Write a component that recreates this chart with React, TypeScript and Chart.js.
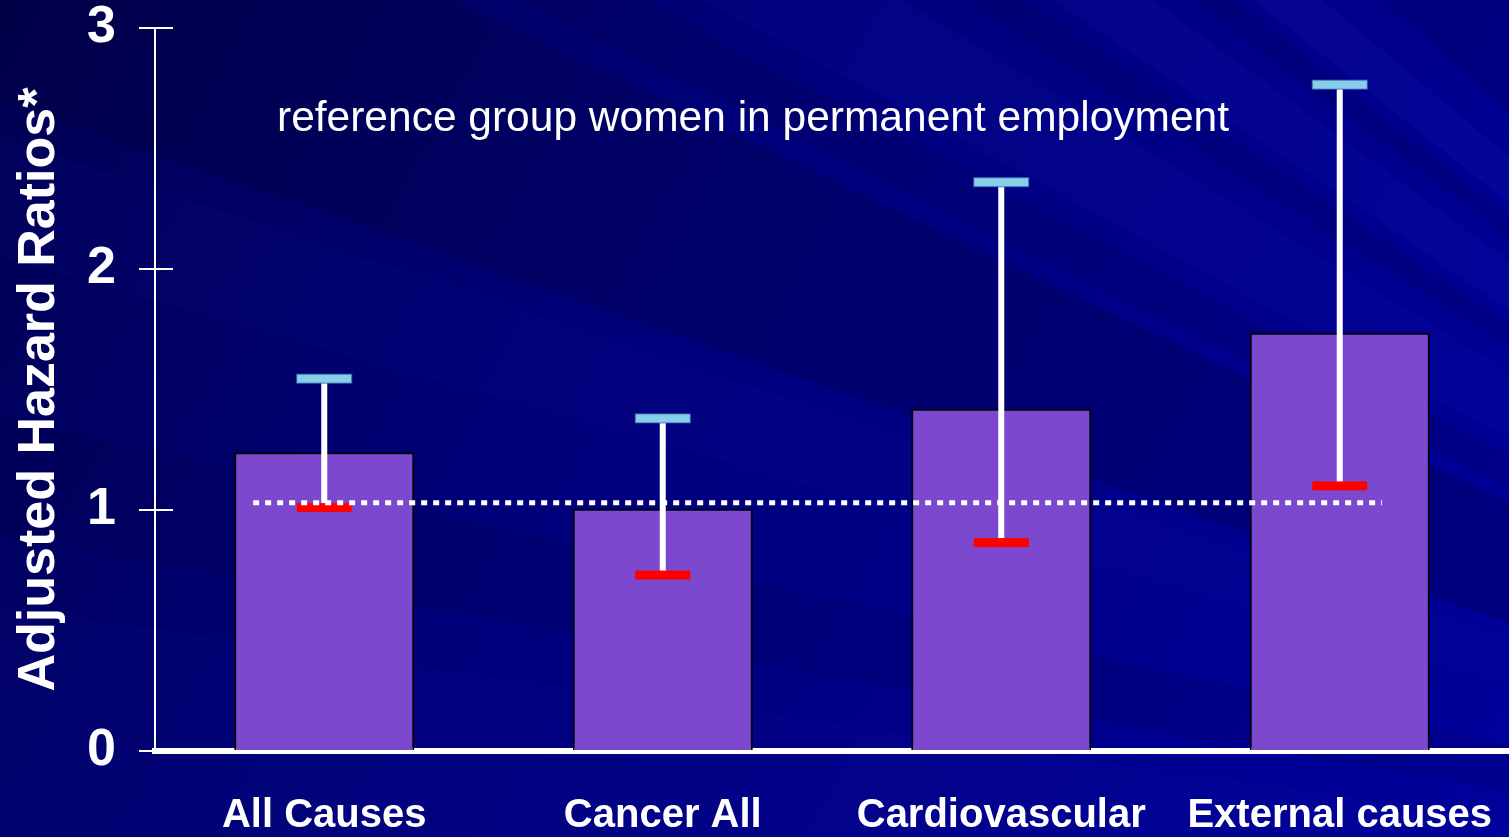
import React, { useEffect, useRef } from 'react';
import { Chart, registerables } from 'chart.js';

Chart.register(...registerables);

// ---------- data ----------
const categories = ['All Causes', 'Cancer All', 'Cardiovascular', 'External causes'];
const hazardRatios = [1.24, 1.005, 1.42, 1.735];
const ciLower = [1.01, 0.73, 0.865, 1.1];
const ciUpper = [1.545, 1.38, 2.36, 2.765];
const referenceLevel = 1.03;
const referenceSpan = [-0.21, 3.125];
const yTicks = [0, 1, 2, 3];
const yTitle = 'Adjusted Hazard Ratios*';
const note = 'reference group women in permanent employment';

const FONT = '"Liberation Sans", Arial, Helvetica, sans-serif';

// ---------- plugins ----------
const backgroundPlugin = {
  id: 'slideBackground',
  beforeDraw(chart: any) {
    const { ctx, width, height } = chart;
    ctx.save();
    const g = ctx.createLinearGradient(0, 0, width, height);
    g.addColorStop(0, '#000052');
    g.addColorStop(0.4, '#00007a');
    g.addColorStop(1, '#00009c');
    ctx.fillStyle = g;
    ctx.fillRect(0, 0, width, height);

    // fan of streaks converging far to the lower right
    const fx = 2450;
    const fy = 950;
    const pt = (s: number) => (s <= height ? [0, height - s] : [s - height, 0]);
    const bands: [number, number, string][] = [
      [0, 230, 'rgba(20,20,160,0.10)'],
      [300, 420, 'rgba(0,0,40,0.10)'],
      [580, 700, 'rgba(30,30,170,0.07)'],
      [737, 1290, 'rgba(0,0,40,0.22)'],
      [1350, 1480, 'rgba(0,0,40,0.12)'],
      [1540, 1740, 'rgba(40,40,200,0.08)'],
      [1800, 1860, 'rgba(0,0,40,0.12)'],
      [1890, 1990, 'rgba(40,40,210,0.10)'],
      [2030, 2070, 'rgba(0,0,40,0.12)'],
      [2090, 2160, 'rgba(50,50,220,0.10)'],
      [2220, 2350, 'rgba(0,0,50,0.16)'],
    ];
    bands.forEach(([s1, s2, c]) => {
      const a = pt(s1);
      const b = pt(s2);
      ctx.beginPath();
      ctx.moveTo(fx, fy);
      ctx.lineTo(a[0] - (fx - a[0]) * 0.5, a[1] - (fy - a[1]) * 0.5);
      ctx.lineTo(b[0] - (fx - b[0]) * 0.5, b[1] - (fy - b[1]) * 0.5);
      ctx.closePath();
      ctx.fillStyle = c;
      ctx.fill();
    });
    ctx.restore();
  },
};

const errorBarPlugin = {
  id: 'errorBars',
  afterDatasetDraw(chart: any, args: any) {
    if (args.index !== 0) return;
    const { ctx } = chart;
    const y = chart.scales.y;
    ctx.save();
    args.meta.data.forEach((bar: any, i: number) => {
      const x = bar.x;
      const yl = y.getPixelForValue(ciLower[i]);
      const yu = y.getPixelForValue(ciUpper[i]);
      ctx.strokeStyle = '#ffffff';
      ctx.lineWidth = 6;
      ctx.beginPath();
      ctx.moveTo(x, yl);
      ctx.lineTo(x, yu);
      ctx.stroke();
      const w = 55;
      const h = 9;
      ctx.fillStyle = '#87ceeb';
      ctx.fillRect(x - w / 2, yu - h / 2, w, h);
      ctx.strokeStyle = 'rgba(60,100,170,0.8)';
      ctx.lineWidth = 1;
      ctx.strokeRect(x - w / 2, yu - h / 2, w, h);
      ctx.fillStyle = '#ff0000';
      ctx.fillRect(x - w / 2, yl - h / 2, w, h);
    });
    ctx.restore();
  },
};

const innerTickPlugin = {
  id: 'innerTicks',
  afterDraw(chart: any) {
    const { ctx } = chart;
    const y = chart.scales.y;
    ctx.save();
    ctx.strokeStyle = '#ffffff';
    ctx.lineWidth = 2;
    yTicks.forEach((v) => {
      const py = Math.round(y.getPixelForValue(v));
      ctx.beginPath();
      ctx.moveTo(y.right, py);
      ctx.lineTo(y.right + 18, py);
      ctx.stroke();
    });
    ctx.restore();
  },
};

const notePlugin = {
  id: 'note',
  afterDraw(chart: any) {
    const { ctx, width } = chart;
    ctx.save();
    ctx.font = `42.5px ${FONT}`;
    ctx.fillStyle = '#ffffff';
    ctx.textAlign = 'center';
    ctx.textBaseline = 'alphabetic';
    ctx.fillText(note, width / 2 - 1.5, 131);
    ctx.restore();
  },
};

const noPad = (s: any) => {
  s.paddingLeft = 0;
  s.paddingRight = 0;
  s.paddingTop = 0;
  s.paddingBottom = 0;
};

export default function App() {
  const ref = useRef<HTMLCanvasElement | null>(null);

  useEffect(() => {
    document.body.style.margin = '0';
    if (!ref.current) return;
    const chart = new Chart(ref.current, {
      type: 'bar',
      data: {
        labels: categories,
        datasets: [
          {
            type: 'bar',
            data: hazardRatios,
            backgroundColor: '#7b48ce',
            borderColor: '#000000',
            borderWidth: 2,
            barPercentage: 0.532,
            categoryPercentage: 1,
            grouped: false,
            order: 1,
          } as any,
          {
            type: 'line',
            xAxisID: 'x2',
            data: [
              { x: referenceSpan[0], y: referenceLevel },
              { x: referenceSpan[1], y: referenceLevel },
            ],
            borderColor: '#ffffff',
            borderWidth: 5,
            borderDash: [6, 6],
            borderCapStyle: 'butt',
            pointRadius: 0,
            fill: false,
            order: 0,
          } as any,
        ],
      },
      options: {
        responsive: false,
        devicePixelRatio: 1,
        animation: false,
        layout: { padding: { top: 28, left: 0, right: 0, bottom: 0 } },
        plugins: {
          legend: { display: false },
          tooltip: { enabled: false },
          title: { display: false },
        },
        scales: {
          x: {
            type: 'category',
            offset: true,
            afterFit: (s: any) => {
              s.height = 86;
              noPad(s);
            },
            grid: { display: false, drawTicks: false, offset: true },
            border: { display: true, color: '#ffffff', width: 6 },
            ticks: {
              color: '#ffffff',
              font: { family: FONT, size: 40, weight: 'bold' },
              padding: 41,
              maxRotation: 0,
              autoSkip: false,
            },
          },
          x2: {
            type: 'linear',
            position: 'bottom',
            min: -0.5,
            max: 3.5,
            offset: false,
            display: false,
            afterFit: (s: any) => {
              noPad(s);
            },
          },
          y: {
            min: 0,
            max: 3,
            afterFit: (s: any) => {
              s.width = 155;
              noPad(s);
            },
            afterBuildTicks: (s: any) => {
              s.ticks = yTicks.map((v) => ({ value: v }));
            },
            grid: {
              drawOnChartArea: false,
              drawTicks: true,
              tickLength: 16,
              color: '#ffffff',
              lineWidth: 2,
            },
            border: { display: true, color: '#ffffff', width: 2 },
            ticks: {
              color: '#ffffff',
              font: { family: FONT, size: 52, weight: 'bold' },
              padding: 23,
            },
            title: {
              display: true,
              text: yTitle,
              color: '#ffffff',
              font: { family: FONT, size: 52, weight: 'bold' },
              padding: { top: 8, bottom: 0 },
            },
          },
        },
      } as any,
      plugins: [backgroundPlugin, errorBarPlugin, innerTickPlugin, notePlugin],
    });
    return () => chart.destroy();
  }, []);

  return (
    <div style={{ width: 1509, height: 837 }}>
      <canvas ref={ref} width={1509} height={837} style={{ display: 'block' }} />
    </div>
  );
}
